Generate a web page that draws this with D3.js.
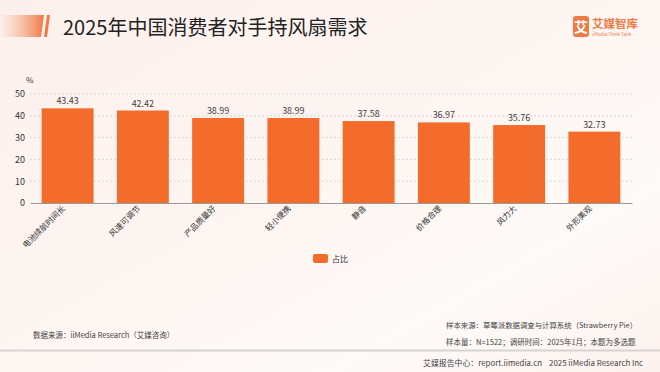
<!DOCTYPE html>
<html><head><meta charset="utf-8">
<script src="https://cdn.jsdelivr.net/npm/d3@7/dist/d3.min.js"></script>
<style>
html,body{margin:0;padding:0;}
body{width:660px;height:372px;overflow:hidden;}
text{font-family:"Noto Sans CJK SC","Noto Sans",sans-serif;}
</style></head>
<body><svg id="c" width="660" height="372"></svg>
<script>
const categories = ["电池续航时间长","风速可调节","产品质量好","轻小便携","静音","价格合理","风力大","外形美观"];
const values = [43.43,42.42,38.99,38.99,37.58,36.97,35.76,32.73];
const yTicks = [0,10,20,30,40,50];
const seriesName = "占比";
const title = "2025年中国消费者对手持风扇需求";

const svg = d3.select("#c");
const defs = svg.append("defs");
const bg = defs.append("linearGradient").attr("id","bg").attr("x1","0").attr("y1","0").attr("x2","1").attr("y2","1");
bg.append("stop").attr("offset","0").attr("stop-color","#fcf0ec");
bg.append("stop").attr("offset","0.55").attr("stop-color","#fdf6f3");
bg.append("stop").attr("offset","0.75").attr("stop-color","#fefaf8");
bg.append("stop").attr("offset","1").attr("stop-color","#fcf2ee");
svg.append("rect").attr("width",660).attr("height",372).attr("fill","url(#bg)");

const tg = defs.append("linearGradient").attr("id","tg").attr("x1","0").attr("x2","1");
tg.append("stop").attr("offset","0").attr("stop-color","#f6a57e").attr("stop-opacity",0);
tg.append("stop").attr("offset","1").attr("stop-color","#ef7a45");
svg.append("path").attr("d","M0,15 L44,15 L41,37 L0,37 Z").attr("fill","url(#tg)");
svg.append("path").attr("d","M47,15 L50,15 L47,37 L44,37 Z").attr("fill","#ef7a45");
svg.append("text").attr("x",63).attr("y",35).attr("font-size",20).attr("fill","#222").text(title);

// logo
svg.append("rect").attr("x",573).attr("y",16).attr("width",16).attr("height",21).attr("rx",3).attr("fill","#ef7a45");
svg.append("text").attr("x",581).attr("y",32).attr("text-anchor","middle").attr("font-size",14).attr("font-weight","bold").attr("fill","#fff").text("艾");
svg.append("text").attr("x",592).attr("y",28).attr("font-size",11.5).attr("font-weight","bold").attr("fill","#ef7a45").text("艾媒智库");
svg.append("text").attr("x",592).attr("y",36).attr("font-size",4.5).attr("fill","#ef7a45").text("iiMedia Think Tank");

const x = d3.scaleBand().domain(categories).range([30,632]).paddingInner(0.31).paddingOuter(0.155);
const y = d3.scaleLinear().domain([0,50]).range([203,94]);

const grid = svg.append("g");
grid.selectAll("line").data(yTicks.filter(d=>d>0)).join("line")
  .attr("x1",30).attr("x2",632).attr("y1",d=>y(d)).attr("y2",d=>y(d))
  .attr("stroke","#cfcfcf").attr("stroke-width",0.8).attr("stroke-dasharray","2,2");

const yAxis = svg.append("g").attr("transform","translate(30,0)")
  .call(d3.axisLeft(y).tickValues(yTicks).tickSize(0).tickPadding(5));
yAxis.select(".domain").remove();
yAxis.selectAll("text").attr("font-size",9).attr("fill","#333").attr("font-family","'DejaVu Sans',sans-serif");
svg.append("text").attr("x",26).attr("y",83).attr("font-size",8).attr("fill","#333").attr("font-family","'DejaVu Sans',sans-serif").text("%");

svg.append("g").selectAll("rect").data(values).join("rect")
  .attr("x",(d,i)=>x(categories[i])).attr("width",x.bandwidth())
  .attr("y",d=>y(d)).attr("height",d=>y(0)-y(d)).attr("fill","#f36c2b");

svg.append("g").selectAll("text").data(values).join("text")
  .attr("x",(d,i)=>x(categories[i])+x.bandwidth()/2).attr("y",d=>y(d)-4)
  .attr("text-anchor","middle").attr("font-size",9).attr("fill","#444")
  .attr("font-family","'DejaVu Sans',sans-serif").text(d=>d.toFixed(2));

const xAxis = svg.append("g").attr("transform","translate(0,203)")
  .call(d3.axisBottom(x).tickSize(0).tickPadding(0));
xAxis.select(".domain").attr("stroke","#999").attr("stroke-width",1);
xAxis.selectAll("text").attr("font-size",8).attr("fill","#333")
  .attr("text-anchor","end").attr("dy",0)
  .attr("transform","translate(-2,6) rotate(-45)");

// legend
svg.append("rect").attr("x",313).attr("y",254).attr("width",15).attr("height",9).attr("rx",2).attr("fill","#f36c2b");
svg.append("text").attr("x",332).attr("y",261.5).attr("font-size",8).attr("fill","#333").text(seriesName);

// footer
svg.append("text").attr("x",33).attr("y",338).attr("font-size",7.5).attr("fill","#444").text("数据来源：iiMedia Research（艾媒咨询）");
svg.append("text").attr("x",446).attr("y",328).attr("font-size",7.4).attr("fill","#444").text("样本来源：草莓派数据调查与计算系统（Strawberry Pie）");
svg.append("text").attr("x",446).attr("y",345).attr("font-size",7.5).attr("fill","#444").text("样本量：N=1522；调研时间：2025年1月；本题为多选题");
svg.append("rect").attr("x",0).attr("y",349.5).attr("width",660).attr("height",2).attr("fill","#d6d3d2");
svg.append("text").attr("x",423).attr("y",366).attr("font-size",7.9).attr("fill","#444").attr("xml:space","preserve").text("艾媒报告中心：report.iimedia.cn    2025 iiMedia Research Inc");
</script></body></html>
